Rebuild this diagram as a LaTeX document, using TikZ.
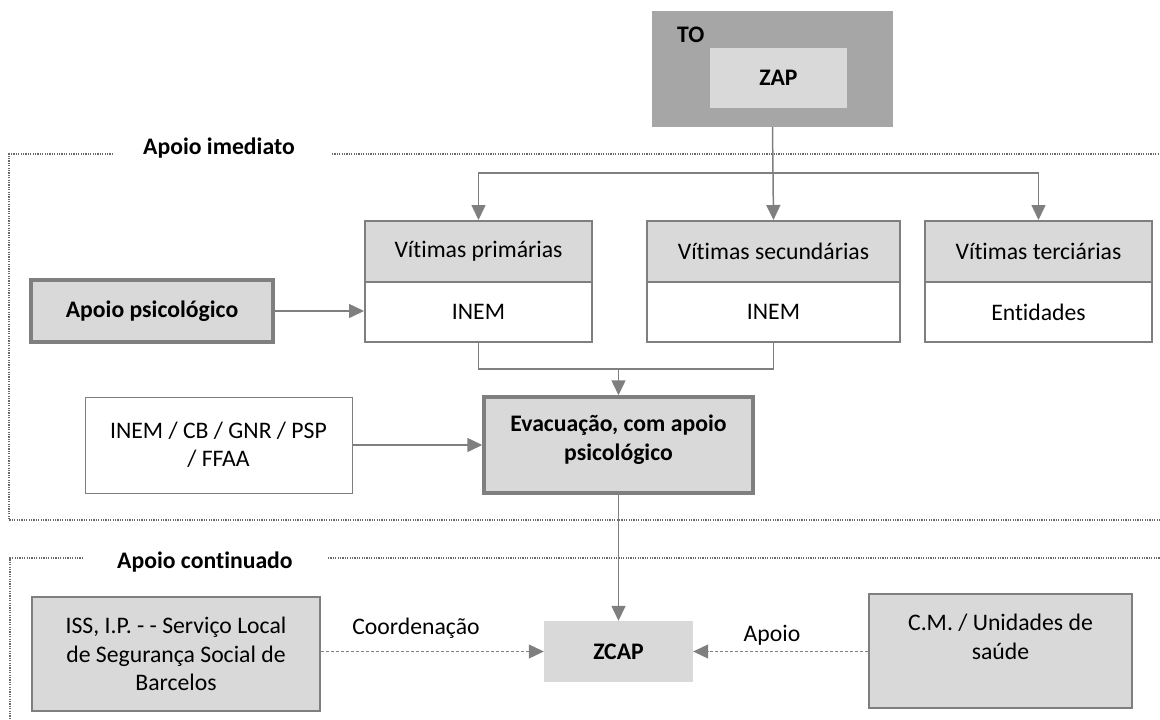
\documentclass[tikz,border=0pt]{standalone}
\usepackage{fontspec}
\setmainfont[RawFeature={-liga;-clig;-dlig;-calt}]{Carlito}
\usetikzlibrary{arrows.meta}
\definecolor{bord}{HTML}{7F7F7F}
\definecolor{lightg}{HTML}{D9D9D9}
\definecolor{darkg}{HTML}{A6A6A6}
\definecolor{framec}{HTML}{6A6A6A}
\begin{document}
\begin{tikzpicture}[x=1pt,y=-1pt,
  every node/.style={font=\fontsize{23.7}{28.5}\selectfont, inner sep=0pt, align=center},
  box/.style={draw=bord, line width=2pt, rectangle},
  hbox/.style={box, fill=lightg},
  wbox/.style={box, fill=white},
  thick box/.style={draw=bord, line width=3.5pt, fill=lightg, font=\fontsize{23.7}{28.5}\selectfont\bfseries},
  plainfill/.style={rectangle},
  lnk/.style={draw=bord, line width=1.5pt},
  arr/.style={draw=bord, line width=1.5pt, -{Triangle[length=15pt,width=14pt]}},
  darr/.style={draw=bord, line width=1pt, dash pattern=on 3pt off 2pt, -{Triangle[length=15pt,width=14pt]}},
  frameline/.style={draw=framec, line width=1.2pt, dash pattern=on 1.2pt off 1.2pt},
  title/.style={anchor=base west, font=\fontsize{23.7}{28.5}\selectfont\bfseries}
]
\useasboundingbox (0,0) rectangle (1160,720);

% frames
\draw[frameline] (113,154) -- (9,154) -- (9,520) -- (1160,520);
\draw[frameline] (332,154) -- (1160,154);
\node[title] (t1) at (143,154) {Apoio imediato};
\draw[frameline] (83,558) -- (10,558) -- (10,720);
\draw[frameline] (328,558) -- (1160,558);
\node[title] (t2) at (117,568) {Apoio continuado};

% TO / ZAP
\node[plainfill, fill=darkg, minimum width=241pt, minimum height=116pt] (to) at (772.5,69) {};
\node[anchor=west, font=\fontsize{23.7}{28.5}\selectfont\bfseries] (tolbl) at (677,35) {TO};
\node[plainfill, fill=lightg, minimum width=137pt, minimum height=60pt, font=\fontsize{23.7}{28.5}\selectfont\bfseries] (zap) at (778.5,78) {ZAP};

% victims
\node[hbox, minimum width=227pt, minimum height=61pt] (vph) at (478.5,251.5) {Vítimas primárias};
\node[wbox, minimum width=227pt, minimum height=60pt] (vpb) at (478.5,312) {INEM};
\node[hbox, minimum width=253pt, minimum height=61pt] (vsh) at (773.5,251.5) {Vítimas secundárias};
\node[wbox, minimum width=253pt, minimum height=60pt] (vsb) at (773.5,312) {INEM};
\node[hbox, minimum width=227pt, minimum height=61pt] (vth) at (1038.5,251.5) {Vítimas terciárias};
\node[wbox, minimum width=227pt, minimum height=60pt] (vtb) at (1038.5,312) {Entidades};

\node[thick box, minimum width=242pt, minimum height=62pt] (apsi) at (152,311) {Apoio psicológico};

\node[draw=bord, line width=1pt, fill=white, minimum width=267pt, minimum height=96pt] (inem) at (218.5,445) {INEM / CB / GNR / PSP\\/ FFAA};
\node[thick box, minimum width=269pt, minimum height=96pt] (evac) at (618.5,445) {Evacuação, com apoio\\psicológico\\[-14pt]\mbox{}};

\node[plainfill, fill=lightg, minimum width=149pt, minimum height=61pt, font=\fontsize{23.7}{28.5}\selectfont\bfseries] (zcap) at (618.5,651.5) {ZCAP};
\node[hbox, minimum width=288pt, minimum height=114pt] (iss) at (176,654) {ISS, I.P. - - Serviço Local\\de Segurança Social de\\Barcelos};
\node[hbox, minimum width=263pt, minimum height=114pt] (cm) at (1000.5,651) {C.M. / Unidades de\\saúde\\\mbox{}};

% connectors
\coordinate (split) at (to.south |- 0,173);
\draw[arr] (to.south) -- (vsh.north);
\draw[arr] (split) -| (vph.north);
\draw[arr] (split) -| (vth.north);
\draw[arr] (apsi.east) -- (vpb.west |- apsi.east);
\coordinate (merge) at (evac.north |- 0,369);
\draw[lnk] (vpb.south) |- (merge);
\draw[lnk] (vsb.south) |- (merge);
\draw[arr] (merge) -- (evac.north);
\draw[arr] (inem.east) -- (evac.west);
\draw[arr] (evac.south) -- (zcap.north);
\draw[darr] (iss.east |- zcap.west) -- (zcap.west);
\draw[darr] (cm.west |- zcap.east) -- (zcap.east);
\node (coord) at (416,628) {Coordenação};
\node (apoio) at (772,635) {Apoio};
\end{tikzpicture}
\end{document}
